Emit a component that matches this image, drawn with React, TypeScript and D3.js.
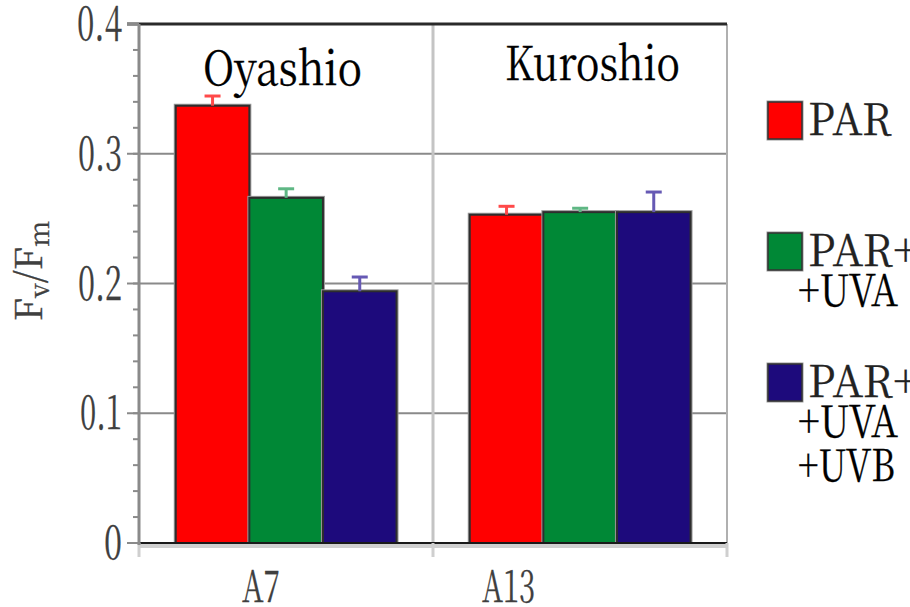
import React from "react";
import * as d3 from "d3";

// Stations and treatment series
const stations = ["A7", "A13"];
const seriesNames = ["PAR", "PAR+UVA", "PAR+UVA+UVB"];
const parValues = [0.337, 0.253];
const uvaValues = [0.266, 0.255];
const uvbValues = [0.194, 0.255];
const parErrors = [0.0075, 0.0065];
const uvaErrors = [0.007, 0.003];
const uvbErrors = [0.011, 0.0155];
const regionTitles = ["Oyashio", "Kuroshio"];
const yTicks = [0, 0.1, 0.2, 0.3, 0.4];
const yTickLabels = ["0", "0.1", "0.2", "0.3", "0.4"];
const legendLines = [["PAR"], ["PAR+", "+UVA"], ["PAR+", "+UVA", "+UVB"]];

const W = 910;
const H = 607;
const plot = { left: 139, right: 727, top: 24, bottom: 543 };
const fills = ["#ff0000", "#008836", "#1d0a7c"];
const errColors = ["#ff4a4a", "#5fb784", "#6659b4"];
const serif = '"Noto Serif CJK JP", "Noto Serif CJK SC", "DejaVu Serif", serif';
const axisGray = "#3f3f3f";

// rendered widths of text runs, in pixels
const tickLabelWidths = [18, 42, 44, 44, 45];
const xLabelWidths = [38, 53];
const titleWidths = [159, 175];
const legendWidths: Record<string, number> = { PAR: 84, "PAR+": 110, "+UVA": 100, "+UVB": 97 };

export default function App() {
  const values = [parValues, uvaValues, uvbValues];
  const errors = [parErrors, uvaErrors, uvbErrors];

  const x = d3.scaleBand<string>().domain(stations).range([plot.left, plot.right]).padding(0);
  const bw = x.bandwidth();
  const xs = d3
    .scaleBand<string>()
    .domain(seriesNames)
    .range([bw * 0.125, bw * 0.876])
    .padding(0);
  const y = d3.scaleLinear().domain([0, 0.4]).range([plot.bottom, plot.top]);
  const minorTicks = d3.range(0, 0.4001, 0.02);

  // left edges of x labels and titles, relative to each band's centre
  const xLabelLeft = [-44, -98];
  const titleLeft = [-83, -75];
  const titleBaseline = [85, 80];
  const textStyle = { fontFamily: serif };

  return (
    <svg
      width={W}
      height={H}
      style={{ position: "absolute", left: 0, top: 0, background: "#fff", fontFamily: serif }}
    >
      {/* horizontal grid */}
      {yTicks.slice(1, -1).map((t) => (
        <line key={t} x1={plot.left} x2={plot.right} y1={y(t)} y2={y(t)} stroke="#8a8a8a" strokeWidth={2} />
      ))}
      {/* vertical separators */}
      {stations.slice(1).map((s) => (
        <line key={s} x1={x(s)!} x2={x(s)!} y1={plot.top} y2={plot.bottom} stroke="#c4c4c4" strokeWidth={3} />
      ))}
      <line x1={plot.right} x2={plot.right} y1={plot.top} y2={plot.bottom} stroke="#b0b0b0" strokeWidth={2} />

      {/* bars */}
      {stations.map((s, i) =>
        seriesNames.map((n, k) => {
          const x0 = x(s)! + xs(n)!;
          const v = values[k][i];
          return (
            <g key={s + n}>
              <rect
                x={x0}
                y={y(v)}
                width={xs.bandwidth()}
                height={y(0) - y(v)}
                fill={fills[k]}
                stroke="#9a9a9a"
                strokeWidth={4}
              />
              <rect
                x={x0}
                y={y(v)}
                width={xs.bandwidth()}
                height={y(0) - y(v)}
                fill={fills[k]}
                stroke="#2e2e2e"
                strokeWidth={2}
              />
            </g>
          );
        })
      )}
      {/* error bars */}
      {stations.map((s, i) =>
        seriesNames.map((n, k) => {
          const cx = x(s)! + xs(n)! + xs.bandwidth() / 2;
          const v = values[k][i];
          const top = y(v + errors[k][i]);
          return (
            <g key={"e" + s + n} stroke={errColors[k]} strokeWidth={3}>
              <line x1={cx} x2={cx} y1={y(v)} y2={top} />
              <line x1={cx - 8} x2={cx + 8} y1={top} y2={top} />
            </g>
          );
        })
      )}

      {/* frame */}
      <line x1={plot.left - 12} x2={plot.right} y1={plot.top} y2={plot.top} stroke="#2a2a2a" strokeWidth={3} />
      <line x1={plot.left} x2={plot.right} y1={plot.bottom + 3} y2={plot.bottom + 3} stroke="#d0d0d0" strokeWidth={4} />
      <line x1={plot.left} x2={plot.right} y1={plot.bottom} y2={plot.bottom} stroke="#1a1a1a" strokeWidth={2} />
      {[...stations.map((s) => x(s)!), plot.right].map((px) => (
        <line key={px} x1={px} x2={px} y1={plot.bottom} y2={plot.bottom + 14} stroke="#cfcfcf" strokeWidth={3} />
      ))}
      <line x1={plot.left} x2={plot.left} y1={plot.top} y2={plot.bottom + 2} stroke="#8a8a8a" strokeWidth={3} />

      {/* y ticks */}
      {minorTicks.map((t) => (
        <line key={"m" + t} x1={plot.left - 6} x2={plot.left} y1={y(t)} y2={y(t)} stroke="#8a8a8a" strokeWidth={2} />
      ))}
      {yTicks.map((t) => (
        <line key={"M" + t} x1={plot.left - 12} x2={plot.left} y1={y(t)} y2={y(t)} stroke="#8a8a8a" strokeWidth={2} />
      ))}
      {yTicks.map((t, i) => (
        <text
          key={"l" + t}
          x={plot.left - 17 - tickLabelWidths[i]}
          y={y(t) + 16}
          textLength={tickLabelWidths[i]}
          lengthAdjust="spacingAndGlyphs"
          fontSize={47}
          fill={axisGray}
          stroke={axisGray}
          strokeWidth={0.3}
          style={textStyle}
        >
          {yTickLabels[i]}
        </text>
      ))}

      {/* x labels */}
      {stations.map((s, i) => (
        <text
          key={"x" + s}
          x={x(s)! + bw / 2 + xLabelLeft[i]}
          y={602}
          textLength={xLabelWidths[i]}
          lengthAdjust="spacingAndGlyphs"
          fontSize={44}
          fill={axisGray}
          stroke={axisGray}
          strokeWidth={0.3}
          style={textStyle}
        >
          {s}
        </text>
      ))}

      {/* y axis title */}
      <text
        transform="translate(42,271) rotate(-90)"
        textAnchor="middle"
        fontSize={37}
        fill={axisGray}
        stroke={axisGray}
        strokeWidth={0.3}
        style={textStyle}
      >
        F
        <tspan fontSize={27} dy={7}>v</tspan>
        <tspan dy={-7}>/F</tspan>
        <tspan fontSize={27} dy={7}>m</tspan>
      </text>

      {/* region titles */}
      {stations.map((s, i) => (
        <text
          key={"t" + s}
          x={x(s)! + bw / 2 + titleLeft[i]}
          y={titleBaseline[i]}
          textLength={titleWidths[i]}
          lengthAdjust="spacingAndGlyphs"
          fontSize={47}
          fill="#000"
          stroke="#000"
          strokeWidth={0.3}
          style={textStyle}
        >
          {regionTitles[i]}
        </text>
      ))}

      {/* legend */}
      {seriesNames.map((n, k) => {
        const top = [102, 233, 364][k];
        return (
          <g key={"lg" + n}>
            <rect x={768} y={top} width={34} height={37} fill={fills[k]} stroke="#9a9a9a" strokeWidth={3} />
            <rect x={768} y={top} width={34} height={37} fill={fills[k]} stroke="#333" strokeWidth={1.5} />
            {legendLines[k].map((line, j) => (
              <text
                key={j}
                x={j === 0 ? 808 : 798}
                y={top + 33 + j * 40 + (j === 2 ? 4 : 0)}
                textLength={legendWidths[line]}
                lengthAdjust="spacingAndGlyphs"
                fontSize={44}
                fill={j === 0 ? "#222" : "#000"}
                stroke={j === 0 ? "#222" : "#000"}
                strokeWidth={0.3}
                style={textStyle}
              >
                {line}
              </text>
            ))}
          </g>
        );
      })}
    </svg>
  );
}
